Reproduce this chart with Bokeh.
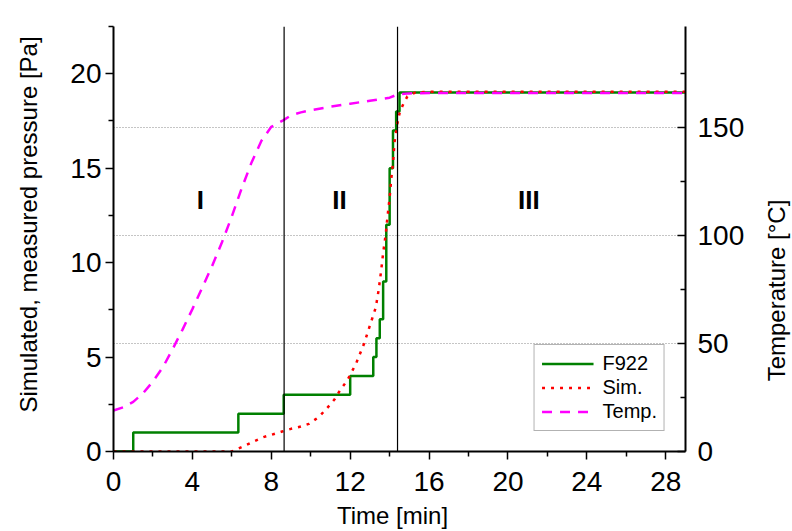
import math
from bokeh.plotting import figure
from bokeh.models import (Range1d, LinearAxis, FixedTicker, Span, Grid, Label)
from bokeh.core.properties import value
from bokeh.embed import file_html
from bokeh.resources import INLINE

# ---------------- data ----------------
# measured pressure F922 (step curve) [Pa] vs time [min]
f922_t = [0, 1.0, 6.33, 8.63, 12.0, 13.17, 13.33, 13.5, 13.67, 13.83, 14.0,
          14.17, 14.33, 14.5, 29.0]
f922_p = [0, 1, 2, 3, 4, 5, 6, 7, 9, 12, 15, 17, 18, 19, 19]

# simulated pressure [Pa]
sim_t = [0, 6.0, 6.6, 7.1, 7.6, 8.0, 8.55, 9.0, 9.5, 9.9, 10.4, 10.8, 11.2,
         11.5, 11.85, 12.3, 12.7, 13.0, 13.3, 13.45, 13.57, 13.67, 13.8,
         13.9, 14.0, 14.08, 14.18, 14.25, 14.38, 14.5, 14.65, 14.9, 15.3,
         16.0, 29.0]
sim_p = [0, 0, 0.28, 0.53, 0.76, 0.88, 1.06, 1.2, 1.32, 1.46, 1.82, 2.26,
         2.75, 3.26, 3.76, 4.66, 5.7, 6.67, 7.63, 8.6, 9.58, 10.5, 11.5,
         12.5, 13.45, 14.4, 15.4, 16.4, 17.3, 17.9, 18.3, 18.8, 19.0,
         19.05, 19.05]

# temperature [°C]
temp_t = [0, 0.5, 1.0, 1.5, 2.0, 2.5, 3.0, 3.5, 4.0, 4.5, 5.0, 5.5, 6.0,
          6.5, 7.0, 7.5, 8.0, 8.6, 9.0, 9.5, 10.0, 11.0, 12.0, 13.0, 14.0,
          14.4, 15.0, 16.0, 29.0]
temp_c = [19, 20.5, 23, 27, 32.5, 39, 47.5, 56.5, 66, 76, 86, 97, 109, 122,
          134, 144, 150.5, 153.5, 155.8, 157.2, 158.2, 159.8, 161.2, 162.6,
          164, 165.5, 166, 166.2, 166.2]

# phase boundaries [min] and phase labels
phase_bounds = [8.65, 14.4]
phase_names = ["I", "II", "III"]
phase_x = [4.4, 11.46, 21.06]
phase_y = [13.3, 13.3, 13.3]

# ticks
x_ticks = [0, 4, 8, 12, 16, 20, 24, 28]
x_minor = [2, 6, 10, 14, 18, 22, 26]
yl_ticks = [0, 5, 10, 15, 20]
yl_minor = [2.5, 7.5, 12.5, 17.5, 22.5]
yr_ticks = [0, 50, 100, 150]
yr_minor = [25, 75, 125, 175]
yr_grid = [50, 100, 150]

x_title = "Time [min]"
yl_title = "Simulated, measured pressure [Pa]"
yr_title = "Temperature [°C]"

FONT = "Liberation Sans"

p = figure(width=792, height=531, x_range=Range1d(0, 29),
           y_range=Range1d(0, 22.5), output_backend="svg",
           toolbar_location=None, min_border_left=113, min_border_right=107,
           min_border_top=26, min_border_bottom=80)
p.extra_y_ranges = {"temp": Range1d(0, 197)}
p.outline_line_color = None
p.xgrid.visible = False
p.ygrid.visible = False
p.background_fill_color = "white"
p.border_fill_color = "white"

# x axis
xa = p.xaxis[0]
xa.ticker = FixedTicker(ticks=x_ticks, minor_ticks=x_minor)
xa.major_tick_out = 8
xa.major_tick_in = 0
xa.minor_tick_out = 5
xa.minor_tick_in = 0
xa.major_label_standoff = 12

# left axis
ya = p.yaxis[0]
ya.ticker = FixedTicker(ticks=yl_ticks, minor_ticks=yl_minor)
ya.major_tick_out = 8
ya.major_tick_in = 0
ya.minor_tick_out = 5
ya.minor_tick_in = 0
ya.major_label_standoff = 4

# right axis
ra = LinearAxis(y_range_name="temp",
                ticker=FixedTicker(ticks=yr_ticks, minor_ticks=yr_minor))
ra.major_tick_out = 0
ra.major_tick_in = 8
ra.minor_tick_out = 0
ra.minor_tick_in = 5
ra.major_label_standoff = 12
p.add_layout(ra, "right")

for ax in (xa, ya, ra):
    ax.axis_line_width = 2
    ax.major_tick_line_width = 1.5
    ax.minor_tick_line_width = 1.5
    ax.axis_line_color = "black"
    ax.major_label_text_font = FONT
    ax.major_label_text_font_size = "28px"
    ax.major_label_text_color = "black"

# axis titles placed in the side panels
p.add_layout(Label(x=279, y=5, x_units="screen", y_units="screen",
                   text=x_title, text_font=FONT, text_font_size="24px",
                   text_align="center", text_baseline="middle",
                   text_color="black"), "below")
p.add_layout(Label(x=-12, y=227, x_units="screen", y_units="screen",
                   text=yl_title, text_font=FONT, text_font_size="24px",
                   text_align="center", text_baseline="middle",
                   angle=math.pi / 2, text_color="black"), "left")
p.add_layout(Label(x=29, y=161, x_units="screen", y_units="screen",
                   text=yr_title, text_font=FONT, text_font_size="24px",
                   text_align="center", text_baseline="middle",
                   angle=math.pi / 2, text_color="black"), "right")

# dotted gridlines from the temperature axis
g = Grid(dimension=1, y_range_name="temp", ticker=FixedTicker(ticks=yr_grid),
         grid_line_color="#8a8a8a", grid_line_dash="1 2",
         grid_line_width=1.2)
p.add_layout(g)

# phase boundaries
for b in phase_bounds:
    p.add_layout(Span(location=b, dimension="height", line_color="black",
                      line_width=1.2))

# phase labels
p.text(x=phase_x, y=phase_y, text=phase_names, text_font=value(FONT),
       text_font_size="26px", text_font_style="bold", text_align="center",
       text_baseline="middle", text_color="black")

# curves
p.step(f922_t, f922_p, mode="after", line_color="#008000", line_width=2.5,
       legend_label="F922")
p.line(sim_t, sim_p, line_color="#ff0000", line_width=2.5, line_dash="3 6",
       legend_label="Sim.")
p.line(temp_t, temp_c, y_range_name="temp", line_color="#ff00ff",
       line_width=2.5, line_dash="10 8", legend_label="Temp.")

lg = p.legend[0]
lg.location = "bottom_right"
lg.margin = 20
lg.padding = 7
lg.spacing = 1
lg.glyph_width = 52
lg.glyph_height = 23
lg.label_height = 23
lg.label_standoff = 9
lg.label_text_font = FONT
lg.label_text_font_size = "20px"
lg.label_text_color = "black"
lg.border_line_color = "#666666"
lg.border_line_width = 1
lg.background_fill_color = "white"
lg.background_fill_alpha = 1

open("out.html", "w").write(file_html(p, INLINE))
